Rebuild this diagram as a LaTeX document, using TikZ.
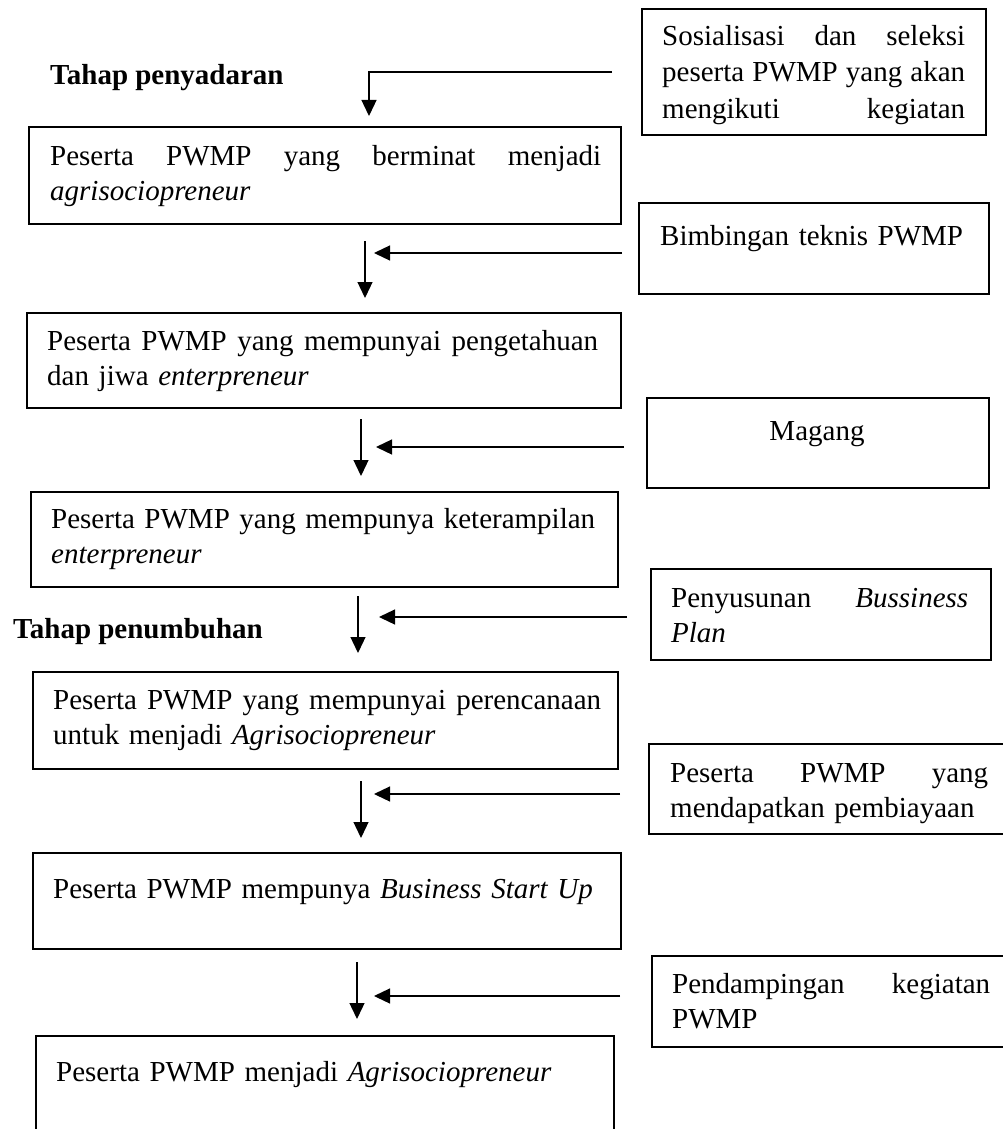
\documentclass[tikz,border=0pt]{standalone}
\usepackage{fontspec}
\setmainfont{Liberation Serif}
\usetikzlibrary{arrows.meta}
\newcommand\jl[2]{\leavevmode\hbox to #1{#2}}
\begin{document}
\begin{tikzpicture}[x=1pt,y=-1pt,
  box/.style={draw=black, line width=2pt, inner sep=0pt, anchor=north west},
  txt/.style={anchor=north west, inner sep=0pt, text width=#1, align=left, font=\fontsize{29}{35.5}\selectfont},
  lab/.style={anchor=base west, inner sep=0pt, font=\fontsize{29}{35.5}\selectfont\bfseries},
  arr/.style={line width=1.3pt, -{Triangle[length=16pt,width=15pt]}}]
\useasboundingbox (0,0) rectangle (1003,1129);
\clip (0,0) rectangle (1003,1129);

% left column boxes
\node[box, minimum width=592pt, minimum height=97pt] (b1) at (28,126) {};
\node[txt=551pt] (t1) at (50,140.15) {\strut\jl{551pt}{Peserta\hfill PWMP\hfill yang\hfill berminat\hfill menjadi}\\\textit{agrisociopreneur}};

\node[box, minimum width=594pt, minimum height=95pt] (b2) at (26,312) {};
\node[txt=551pt] (t2) at (47,325.15) {\strut\jl{551pt}{Peserta\hfill PWMP\hfill yang\hfill mempunyai\hfill pengetahuan}\\dan jiwa \textit{enterpreneur}};

\node[box, minimum width=587pt, minimum height=95pt] (b3) at (30,491) {};
\node[txt=544pt] (t3) at (51,503.15) {\strut\jl{544pt}{Peserta\hfill PWMP\hfill yang\hfill mempunya\hfill keterampilan}\\\textit{enterpreneur}};

\node[box, minimum width=585pt, minimum height=97pt] (b4) at (32,671) {};
\node[txt=548pt] (t4) at (53,684.15) {\strut\jl{548pt}{Peserta\hfill PWMP\hfill yang\hfill mempunyai\hfill perencanaan}\\untuk menjadi \textit{Agrisociopreneur}};

\node[box, minimum width=588pt, minimum height=96pt] (b5) at (32,852) {};
\node[txt=560pt] (t5) at (53,873.15) {\strut Peserta PWMP mempunya \textit{Business Start Up}};

\node[box, minimum width=578pt, minimum height=110pt] (b6) at (35,1035) {};
\node[txt=560pt] (t6) at (56,1056.15) {\strut Peserta PWMP menjadi \textit{Agrisociopreneur}};

% right column boxes
\node[box, minimum width=344pt, minimum height=126pt] (r1) at (641,8) {};
\node[txt=303pt, font=\fontsize{29}{36.5}\selectfont] (s1) at (662,19.45) {\strut\jl{303pt}{Sosialisasi\hfill dan\hfill seleksi}\\\jl{303pt}{peserta\hfill PWMP\hfill yang\hfill akan}\\\jl{303pt}{mengikuti\hfill kegiatan}};

\node[box, minimum width=350pt, minimum height=91pt] (r2) at (638,202) {};
\node[txt=320pt] (s2) at (660,220.15) {\strut Bimbingan teknis PWMP};

\node[box, minimum width=342pt, minimum height=90pt] (r3) at (646,397) {};
\node[anchor=base, inner sep=0pt, font=\fontsize{29}{35.5}\selectfont] (s3) at (817,440) {Magang};

\node[box, minimum width=340pt, minimum height=91pt] (r4) at (650,568) {};
\node[txt=297pt] (s4) at (671,582.15) {\strut\jl{297pt}{Penyusunan\hfill\textit{Bussiness}}\\\textit{Plan}};

\node[box, minimum width=362pt, minimum height=90pt] (r5) at (648,743) {};
\node[txt=318pt] (s5) at (670,757.15) {\strut\jl{318pt}{Peserta\hfill PWMP\hfill yang}\\mendapatkan pembiayaan};

\node[box, minimum width=359pt, minimum height=91pt] (r6) at (651,955) {};
\node[txt=318pt] (s6) at (672,968.15) {\strut\jl{318pt}{Pendampingan\hfill kegiatan}\\PWMP};

% stage labels
\node[lab] (l1) at (50,85) {Tahap penyadaran};
\node[lab] (l2) at (13,638) {Tahap penumbuhan};

% connectors
\coordinate (c0a) at (612,72);
\coordinate (c0b) at (369,72);
\coordinate (c0c) at (369,116);
\draw[arr] (c0a) -- (c0b) -- (c0c);

\coordinate (v1a) at (365,241); \coordinate (v1b) at (365,298);
\coordinate (h1a) at (622,253); \coordinate (h1b) at (374,253);
\draw[arr] (v1a) -- (v1b);
\draw[arr] (h1a) -- (h1b);

\coordinate (v2a) at (361,419); \coordinate (v2b) at (361,476);
\coordinate (h2a) at (624,447); \coordinate (h2b) at (376,447);
\draw[arr] (v2a) -- (v2b);
\draw[arr] (h2a) -- (h2b);

\coordinate (v3a) at (358,596); \coordinate (v3b) at (358,653);
\coordinate (h3a) at (627,617); \coordinate (h3b) at (379,617);
\draw[arr] (v3a) -- (v3b);
\draw[arr] (h3a) -- (h3b);

\coordinate (v4a) at (361,781); \coordinate (v4b) at (361,838);
\coordinate (h4a) at (620,794); \coordinate (h4b) at (374,794);
\draw[arr] (v4a) -- (v4b);
\draw[arr] (h4a) -- (h4b);

\coordinate (v5a) at (357,962); \coordinate (v5b) at (357,1019);
\coordinate (h5a) at (620,996); \coordinate (h5b) at (374,996);
\draw[arr] (v5a) -- (v5b);
\draw[arr] (h5a) -- (h5b);
\end{tikzpicture}
\end{document}
